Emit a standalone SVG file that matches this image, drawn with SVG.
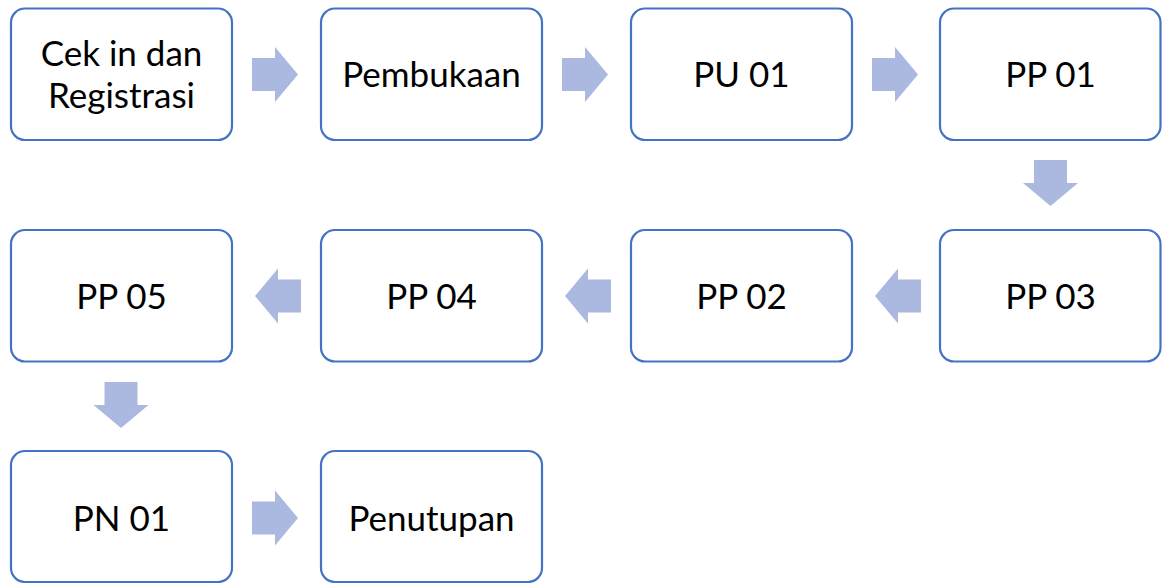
<svg xmlns="http://www.w3.org/2000/svg" width="1162" height="583" viewBox="0 0 1162 583">
<style>
.box{fill:#ffffff;stroke:#4472C4;stroke-width:2.2}
.arr{fill:#ABB9E0}
.t{font-family:Lato,"Liberation Sans",sans-serif;font-size:35px;fill:#000;text-anchor:middle}
</style>
<defs>
<path id="ar" d="M0,-16.5 H23 V-27.5 L46,0 L23,27.5 V16.5 H0 Z"/>
</defs>
<rect width="1162" height="583" fill="#fff"/>
<g id="connectors">
<use href="#ar" class="arr" transform="translate(252,74.5)"/>
<use href="#ar" class="arr" transform="translate(562,74.5)"/>
<use href="#ar" class="arr" transform="translate(872,74.5)"/>
<use href="#ar" class="arr" transform="translate(1050.5,160) rotate(90)"/>
<use href="#ar" class="arr" transform="translate(921,296) rotate(180)"/>
<use href="#ar" class="arr" transform="translate(611,296) rotate(180)"/>
<use href="#ar" class="arr" transform="translate(301,296) rotate(180)"/>
<use href="#ar" class="arr" transform="translate(121,382) rotate(90)"/>
<use href="#ar" class="arr" transform="translate(252,518) "/>
</g>
<g id="n1"><rect class="box" x="11" y="8.5" width="221" height="131.5" rx="14"/><text class="t" x="121.5" y="66">Cek in dan</text><text class="t" x="121.5" y="108">Registrasi</text></g>
<g id="n2"><rect class="box" x="321" y="8.5" width="221" height="131.5" rx="14"/><text class="t" x="431.5" y="87">Pembukaan</text></g>
<g id="n3"><rect class="box" x="631" y="8.5" width="221" height="131.5" rx="14"/><text class="t" x="741.5" y="87">PU 01</text></g>
<g id="n4"><rect class="box" x="940" y="8.5" width="220.5" height="131.5" rx="14"/><text class="t" x="1050.5" y="87">PP 01</text></g>
<g id="n5"><rect class="box" x="940" y="230" width="220.5" height="131.5" rx="14"/><text class="t" x="1050.5" y="309">PP 03</text></g>
<g id="n6"><rect class="box" x="631" y="230" width="221" height="131.5" rx="14"/><text class="t" x="741.5" y="309">PP 02</text></g>
<g id="n7"><rect class="box" x="321" y="230" width="221" height="131.5" rx="14"/><text class="t" x="431.5" y="309">PP 04</text></g>
<g id="n8"><rect class="box" x="11" y="230" width="221" height="131.5" rx="14"/><text class="t" x="121.5" y="309">PP 05</text></g>
<g id="n9"><rect class="box" x="11" y="451" width="221" height="131" rx="14"/><text class="t" x="121.5" y="531">PN 01</text></g>
<g id="n10"><rect class="box" x="321" y="451" width="221" height="131" rx="14"/><text class="t" x="431.5" y="531">Penutupan</text></g>
</svg>
